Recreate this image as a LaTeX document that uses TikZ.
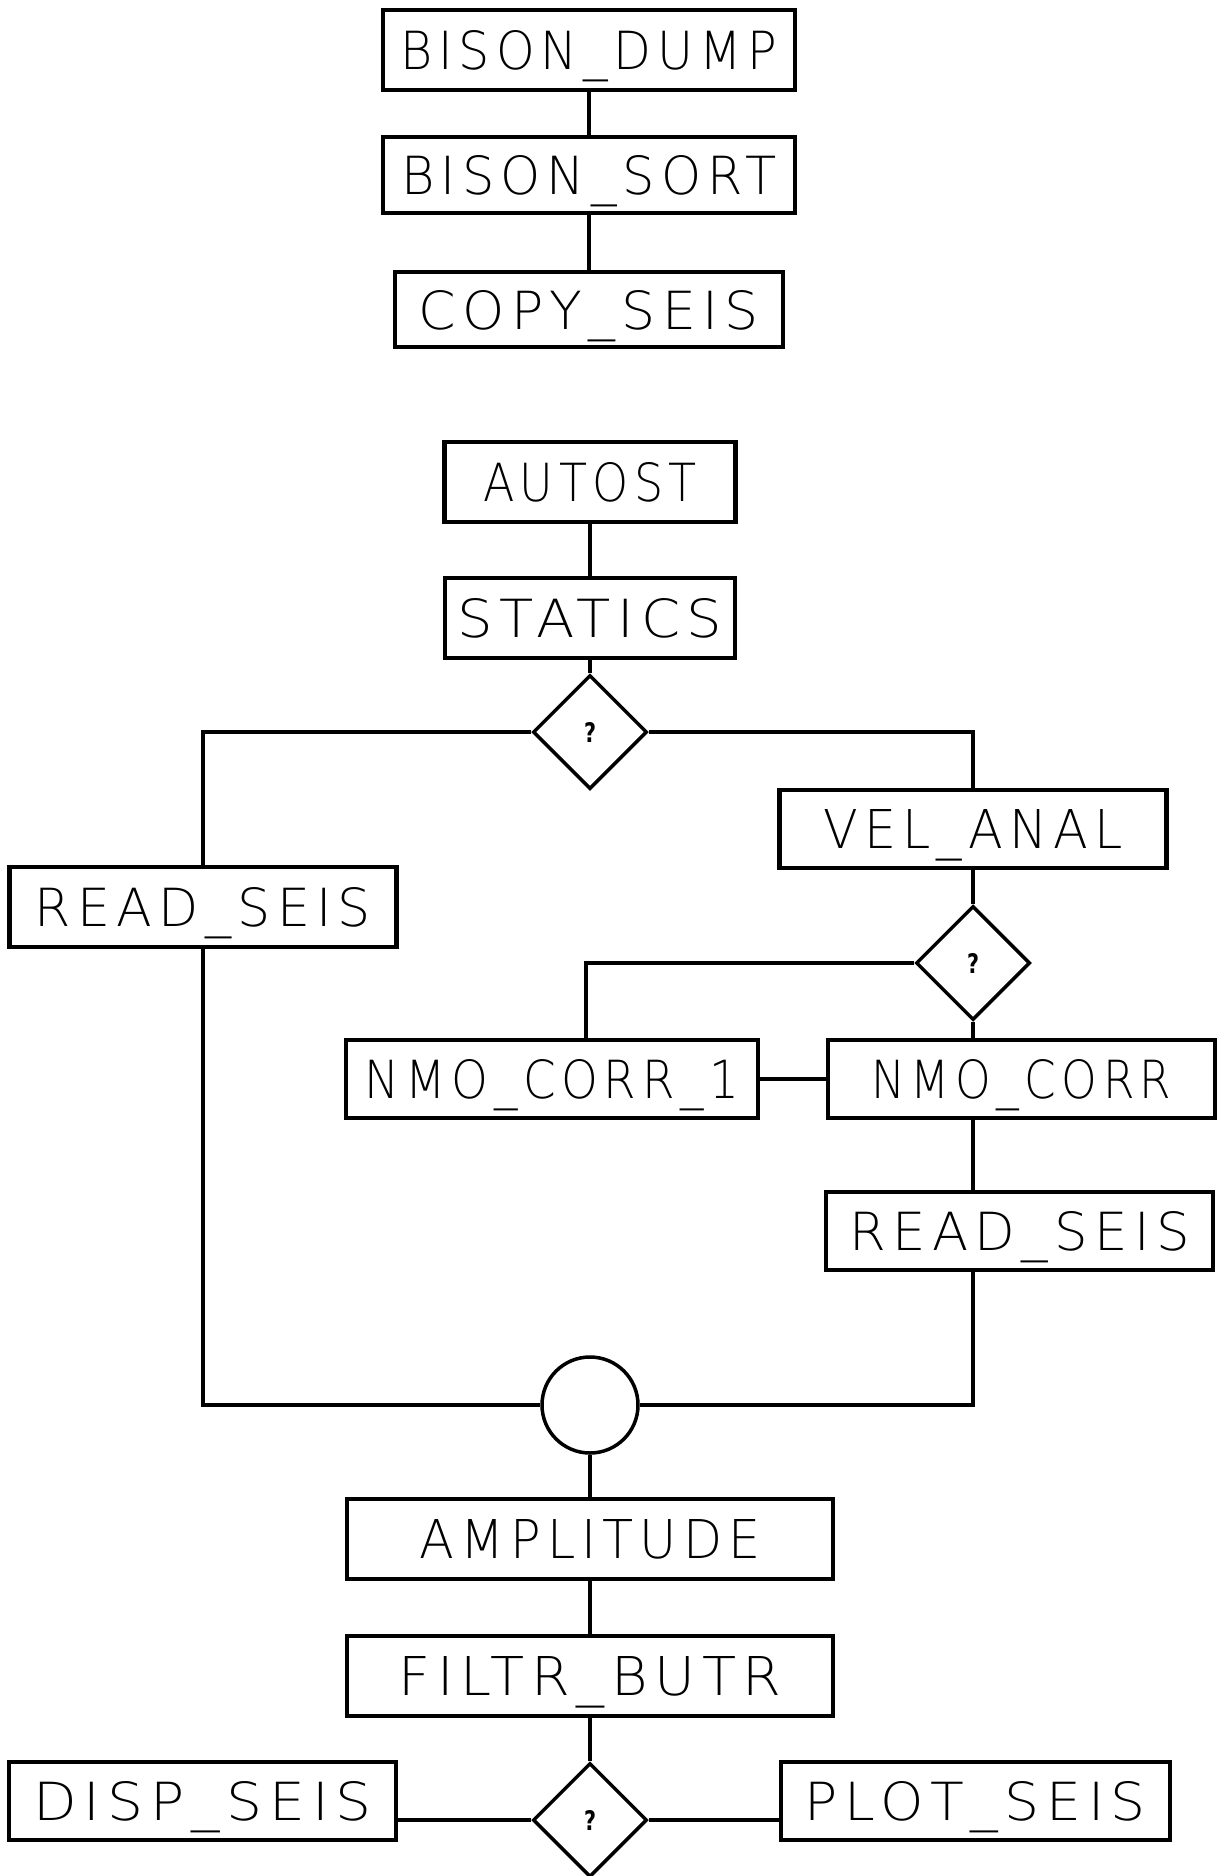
\documentclass[tikz,border=0pt]{standalone}
\usepackage{fontspec}
\newfontfamily\plotfont[LetterSpace=12]{DejaVu Sans ExtraLight}
\newfontfamily\qfont{DejaVu Sans Bold}
\usetikzlibrary{shapes.geometric}
\tikzset{
  box/.style={draw, line width=4.5pt, inner sep=0pt, text depth=0pt, font=\plotfont},
  dec/.style={draw, diamond, line width=3.5pt, inner sep=0pt, minimum width=114pt, minimum height=114pt, font=\qfont},
  joinc/.style={draw, circle, line width=3.5pt, minimum size=96pt, inner sep=0pt},
  conn/.style={line width=3.5pt},
}
\newcommand\lbl[2]{\resizebox{#1pt}{39pt}{#2}}
\newcommand\qm{\resizebox{12pt}{20pt}{?}}
\begin{document}
\begin{tikzpicture}[x=1pt,y=-1pt]
\useasboundingbox (0,0) rectangle (1217,1876);
% top chain
\node[box, minimum width=412pt, minimum height=80pt] (dump) at (589,50) {\lbl{377}{BISON\_DUMP}};
\node[box, minimum width=412pt, minimum height=76pt] (sort) at (589,175) {\lbl{375}{BISON\_SORT}};
\node[box, minimum width=388pt, minimum height=75pt] (copy) at (589,309.5) {\lbl{340}{COPY\_SEIS}};
% main chain
\node[box, minimum width=291pt, minimum height=80pt] (autost) at (590,482) {\lbl{214}{AUTOST}};
\node[box, minimum width=290pt, minimum height=80pt] (statics) at (590,618) {\lbl{265}{STATICS}};
\node[dec] (d1) at (590,732) {\qm};
\node[box, minimum width=387pt, minimum height=80pt] (readL) at (203,907) {\lbl{336}{READ\_SEIS}};
\node[box, minimum width=387pt, minimum height=78pt] (vel) at (973,829) {\lbl{299}{VEL\_ANAL}};
\node[dec] (d2) at (973,963) {\qm};
\node[box, minimum width=412pt, minimum height=78pt] (nmo1) at (552,1079) {\lbl{374}{NMO\_CORR\_1}};
\node[box, minimum width=387pt, minimum height=78pt] (nmo) at (1021.5,1079) {\lbl{300}{NMO\_CORR}};
\node[box, minimum width=387pt, minimum height=78pt] (readR) at (1019.5,1231) {\lbl{340}{READ\_SEIS}};
\node[joinc] (j) at (590,1405) {};
\node[box, minimum width=486pt, minimum height=80pt] (amp) at (590,1539) {\lbl{341}{AMPLITUDE}};
\node[box, minimum width=486pt, minimum height=80pt] (filt) at (590,1676) {\lbl{383}{FILTR\_BUTR}};
\node[dec] (d3) at (590,1820) {\qm};
\node[box, minimum width=387pt, minimum height=78pt] (disp) at (202.5,1801) {\lbl{338}{DISP\_SEIS}};
\node[box, minimum width=389pt, minimum height=78pt] (plot) at (975.5,1801) {\lbl{341}{PLOT\_SEIS}};
\coordinate (k1) at (586,963);
% connectors
\draw[conn] (dump.south) -- (sort.north);
\draw[conn] (sort.south) -- (copy.north);
\draw[conn] (autost.south) -- (statics.north);
\draw[conn] (statics.south) -- (d1.north);
\draw[conn] (d1.west) -| (readL.north);
\draw[conn] (d1.east) -| (vel.north);
\draw[conn] (vel.south) -- (d2.north);
\draw[conn] (d2.west) -- (k1) -- (k1 |- nmo1.north);
\draw[conn] (d2.south) -- (d2.south |- nmo.north);
\draw[conn] (nmo1.east) -- (nmo1.east -| nmo.west);
\draw[conn] (nmo.south -| d2.south) -- (readR.north -| d2.south);
\draw[conn] (readL.south) -- (readL.south |- j.west) -- (j.west);
\draw[conn] (readR.south -| d2.south) -- (d2.south |- j.east) -- (j.east);
\draw[conn] (j.south) -- (amp.north);
\draw[conn] (amp.south) -- (filt.north);
\draw[conn] (filt.south) -- (d3.north);
\draw[conn] (d3.west) -- (d3.west -| disp.east);
\draw[conn] (d3.east) -- (d3.east -| plot.west);
\end{tikzpicture}
\end{document}
